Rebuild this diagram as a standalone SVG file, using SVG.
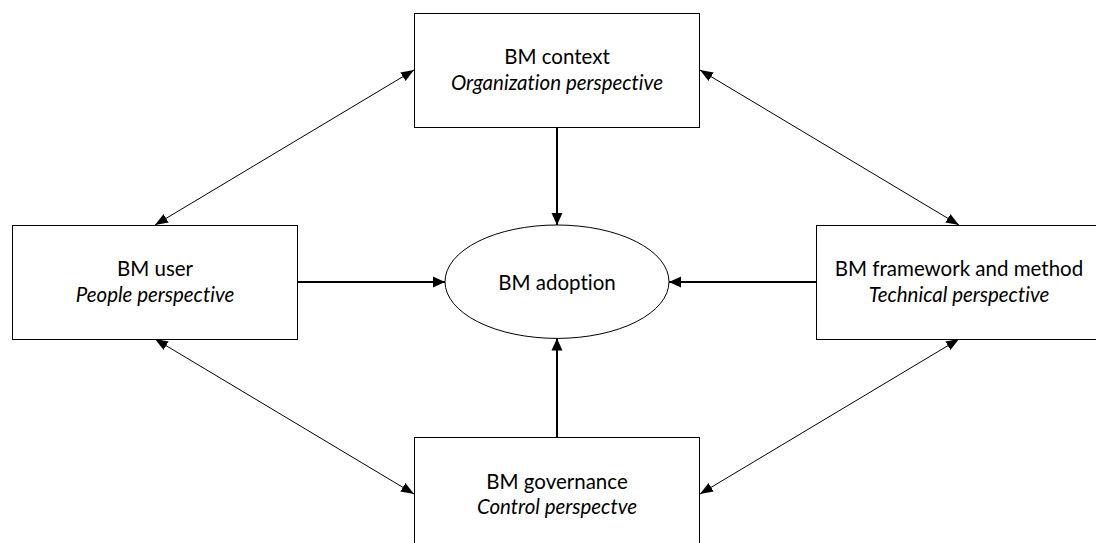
<svg xmlns="http://www.w3.org/2000/svg" width="1096" height="543" viewBox="0 0 1096 543">
  <style>
    .box { fill: #ffffff; stroke: #000000; stroke-width: 1; }
    .lbl { font-family: Lato, "Open Sans", "Liberation Sans", sans-serif; font-size: 20.5px; fill: #000000; text-anchor: middle; font-variant-ligatures: none; }
    .it { font-style: italic; }
    .thick { stroke: #000000; stroke-width: 2; fill: none; marker-end: url(#headBig); }
    .thin { stroke: #000000; stroke-width: 1; fill: none; marker-start: url(#headSmall); marker-end: url(#headSmall); }
  </style>
  <defs>
    <marker id="headBig" markerUnits="userSpaceOnUse" markerWidth="12" markerHeight="12" viewBox="0 0 12 12" refX="12" refY="6" orient="auto-start-reverse">
      <path d="M0,0.5 L12,6 L0,11.5 Z" fill="#000000"/>
    </marker>
    <marker id="headSmall" markerUnits="userSpaceOnUse" markerWidth="13" markerHeight="10" viewBox="0 0 13 10" refX="13" refY="5" orient="auto-start-reverse">
      <path d="M0,0 L13,5 L0,10 Z" fill="#000000"/>
    </marker>
  </defs>

  <rect width="1096" height="543" fill="#ffffff"/>

  <g id="connectors">
    <!-- influences into the central adoption node -->
    <line class="thick" x1="557" y1="127" x2="557" y2="225"/>
    <line class="thick" x1="557" y1="437" x2="557" y2="338.5"/>
    <line class="thick" x1="298" y1="282" x2="445" y2="282"/>
    <line class="thick" x1="816" y1="282" x2="669" y2="282"/>
    <!-- mutual relations between the four perspectives -->
    <line class="thin" x1="155" y1="225" x2="414" y2="70"/>
    <line class="thin" x1="700" y1="70" x2="959" y2="225"/>
    <line class="thin" x1="155" y1="339" x2="414" y2="494"/>
    <line class="thin" x1="959" y1="339" x2="700" y2="494"/>
  </g>

  <g id="context">
    <rect class="box" x="414.5" y="13.5" width="285" height="114"/>
    <text class="lbl" x="557" y="64">BM context</text>
    <text class="lbl it" x="557" y="90">Organization perspective</text>
  </g>

  <g id="user">
    <rect class="box" x="12.5" y="225.5" width="285" height="114"/>
    <text class="lbl" x="155" y="276">BM user</text>
    <text class="lbl it" x="155" y="302">People perspective</text>
  </g>

  <g id="framework">
    <rect class="box" x="816.5" y="225.5" width="286" height="114"/>
    <text class="lbl" x="959" y="276">BM framework and method</text>
    <text class="lbl it" x="959" y="302">Technical perspective</text>
  </g>

  <g id="governance">
    <rect class="box" x="414.5" y="437.5" width="285" height="114"/>
    <text class="lbl" x="557" y="489">BM governance</text>
    <text class="lbl it" x="557" y="514">Control perspectve</text>
  </g>

  <g id="adoption">
    <ellipse class="box" cx="557" cy="281.7" rx="112" ry="56.7"/>
    <text class="lbl" x="557" y="290">BM adoption</text>
  </g>
</svg>
